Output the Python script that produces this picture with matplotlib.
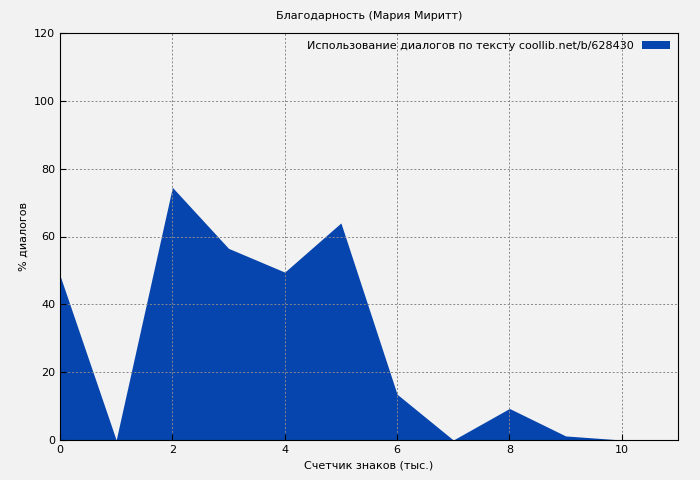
import matplotlib
matplotlib.use("Agg")
import matplotlib.pyplot as plt

x = [0, 1, 2, 3, 4, 5, 6, 7, 8, 9, 10, 11]
y = [48.5, 0, 74.5, 56.5, 49.5, 64, 13.5, 0, 9.3, 1.2, 0, 0]
label = "Использование диалогов по тексту coollib.net/b/628430"

fig = plt.figure(figsize=(7, 4.8), dpi=100, facecolor="#f2f2f2")
ax = fig.add_axes([60/700, 40/480, 618/700, 407/480], facecolor="#f2f2f2")
ax.fill_between(x, y, 0, color="#0645ad", lw=0, label=label)
ax.set_xlim(0, 11)
ax.set_ylim(0, 120)
ax.set_xticks([0, 2, 4, 6, 8, 10])
ax.set_yticks(range(0, 121, 20))
ax.grid(True, color="#888888", linestyle=(0, (2, 2)), linewidth=0.7)
ax.tick_params(labelsize=8, direction="in", length=4)
ax.set_xlabel("Счетчик знаков (тыс.)", fontsize=8)
ax.set_ylabel("% диалогов", fontsize=8)
fig.text(369/700, 1-16/480, "Благодарность (Мария Миритт)", ha="center", va="center", fontsize=8)
ax.legend(loc="upper right", fontsize=8, frameon=False, handlelength=2.5, markerfirst=False, borderaxespad=0.3)
fig.savefig("out.png", dpi=100, facecolor="#f2f2f2")
